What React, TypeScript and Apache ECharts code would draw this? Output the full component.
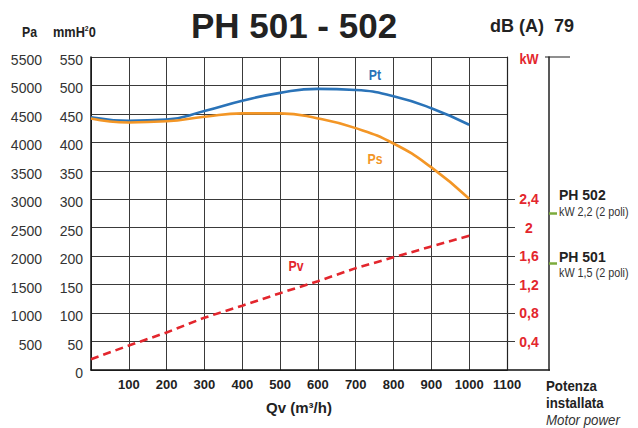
import React, { useEffect, useRef } from "react";
import * as echarts from "echarts";

const SANS = '"Liberation Sans", Arial, sans-serif';

const flowQ = [0, 100, 200, 300, 400, 500, 600, 700, 800, 900, 1000];
const ptValues = [444, 438, 440, 455, 473, 487, 494, 492, 481, 460, 431];
const psValues = [442, 435, 437, 445, 451, 451, 442, 425, 398, 356, 301];
const pvValues = [19, 43, 66, 92, 113, 135, 156, 179, 198, 217, 236];
const kwTicks = [0.4, 0.8, 1.2, 1.6, 2, 2.4];
const motorKw = [1.5, 2.2];

const BLUE = "#2a73b8";
const ORANGE = "#f39626";
const RED = "#e3262d";
const GREEN = "#7cab3c";
const GRID = "#3a3a3a";

function pairs(ys: number[]) {
  return flowQ.map((q, i) => [q, ys[i]]);
}

function txt(
  text: string,
  x: number,
  y: number,
  font: string,
  fill: string,
  scaleX = 1,
  align = "left",
  extra: any = {}
) {
  return {
    type: "text",
    x,
    y,
    scaleX,
    style: { text, fill, font, align, verticalAlign: "middle", ...extra },
  };
}

export default function App() {
  const ref = useRef<HTMLDivElement>(null);
  useEffect(() => {
    const chart = echarts.init(ref.current!, null, { renderer: "svg" });
    const leftLabel = {
      margin: 8,
      color: "#333",
      fontFamily: SANS,
      fontSize: 14,
      verticalAlign: "top",
      lineHeight: 6,
    };
    const option: any = {
      animation: false,
      backgroundColor: "#ffffff",
      grid: { left: 91, top: 57, width: 416, height: 313, containLabel: false },
      xAxis: {
        type: "value",
        min: 0,
        max: 1100,
        interval: 100,
        axisLine: { show: true, lineStyle: { color: "#111", width: 1.5 } },
        axisTick: { show: false },
        splitLine: { show: true, lineStyle: { color: GRID, width: 1 } },
        axisLabel: {
          margin: 8,
          color: "#222",
          fontFamily: SANS,
          fontWeight: "bold",
          fontSize: 13,
          formatter: (v: number) => (v === 0 ? "" : String(v)),
        },
        name: "Qv (m³/h)",
        nameLocation: "middle",
        nameGap: 30,
        nameTextStyle: { color: "#222", fontFamily: SANS, fontWeight: "bold", fontSize: 15 },
      },
      yAxis: [
        {
          type: "value",
          position: "left",
          min: 0,
          max: 550,
          interval: 50,
          axisLine: { show: true, lineStyle: { color: "#111", width: 1.5 } },
          axisTick: { show: false },
          splitLine: { show: true, lineStyle: { color: GRID, width: 1 } },
          axisLabel: { ...leftLabel },
        },
        {
          type: "value",
          position: "left",
          offset: 41,
          min: 0,
          max: 5500,
          interval: 500,
          axisLine: { show: false },
          axisTick: { show: false },
          splitLine: { show: false },
          axisLabel: {
            ...leftLabel,
            formatter: (v: number) => (v === 0 ? "" : String(v)),
          },
        },
        {
          type: "value",
          position: "right",
          min: 0,
          max: 4.4,
          interval: 0.4,
          axisLine: { show: true, lineStyle: { color: "#222", width: 1.2 } },
          axisTick: {
            show: true,
            length: 8,
            customValues: kwTicks,
            lineStyle: { color: GRID, width: 1 },
          },
          splitLine: { show: false },
          axisLabel: {
            show: true,
            customValues: kwTicks,
            margin: 22,
            align: "center",
            color: RED,
            fontFamily: SANS,
            fontWeight: "bold",
            fontSize: 14,
            formatter: (v: number) => String(v).replace(".", ","),
          },
        },
        {
          type: "value",
          position: "right",
          offset: 42,
          min: 0,
          max: 4.4,
          interval: 0.4,
          axisLine: { show: true, lineStyle: { color: "#222", width: 1.5 } },
          axisTick: {
            show: true,
            length: 8,
            customValues: motorKw,
            lineStyle: { color: GREEN, width: 2.5 },
          },
          splitLine: { show: false },
          axisLabel: { show: false },
        },
      ],
      series: [
        {
          name: "Pt",
          type: "line",
          yAxisIndex: 0,
          data: pairs(ptValues),
          smooth: 0.5,
          showSymbol: false,
          lineStyle: { color: BLUE, width: 2.6 },
        },
        {
          name: "Ps",
          type: "line",
          yAxisIndex: 0,
          data: pairs(psValues),
          smooth: 0.5,
          showSymbol: false,
          lineStyle: { color: ORANGE, width: 2.6 },
        },
        {
          name: "Pv",
          type: "line",
          yAxisIndex: 0,
          data: pairs(pvValues),
          smooth: false,
          showSymbol: false,
          lineStyle: { color: RED, width: 2.6, type: [8, 5] },
        },
      ],
      graphic: [
        txt("Pa", 22, 32, `bold 15px ${SANS}`, "#222", 0.82),
        txt("mmH{sup|2}0", 53, 32, `bold 15px ${SANS}`, "#222", 0.85, "left", {
          rich: {
            sup: { fontSize: 8, fontWeight: "bold", fontFamily: SANS, fill: "#222", padding: [0, 0, 7, 0] },
          },
        }),
        txt("PH 501 - 502", 294, 25, `bold 35px ${SANS}`, "#222", 1, "center"),
        txt("dB (A)", 490, 26, `bold 18px ${SANS}`, "#222"),
        txt("79", 554, 26, `bold 18px ${SANS}`, "#222"),
        txt("kW", 529, 59, `bold 15px ${SANS}`, RED, 0.85, "center"),
        {
          type: "line",
          shape: { x1: 545, y1: 57, x2: 570, y2: 57 },
          style: { stroke: "#444", lineWidth: 1.2 },
        },
        {
          type: "line",
          shape: { x1: 507, y1: 370, x2: 550, y2: 370 },
          style: { stroke: "#111", lineWidth: 1.5 },
        },
        txt("PH 502", 559, 195, `bold 14px ${SANS}`, "#222"),
        txt("kW 2,2 (2 poli)", 559, 212, `12px ${SANS}`, "#333", 0.9),
        txt("PH 501", 559, 257, `bold 14px ${SANS}`, "#222"),
        txt("kW 1,5 (2 poli)", 559, 273, `12px ${SANS}`, "#333", 0.9),
        txt("Potenza", 546, 386, `bold 14px ${SANS}`, "#222", 0.95),
        txt("installata", 546, 403, `bold 14px ${SANS}`, "#222", 0.95),
        txt("Motor power", 546, 420, `italic 14px ${SANS}`, "#333", 0.95),
        txt("Pt", 375, 75, `bold 15px ${SANS}`, BLUE, 0.82, "center"),
        txt("Ps", 375, 159, `bold 15px ${SANS}`, ORANGE, 0.82, "center"),
        txt("Pv", 296, 266, `bold 15px ${SANS}`, RED, 0.82, "center"),
      ],
    };
    chart.setOption(option);
    return () => chart.dispose();
  }, []);
  return (
    <div
      ref={ref}
      style={{ position: "absolute", left: 0, top: 0, width: 638, height: 428 }}
    />
  );
}
